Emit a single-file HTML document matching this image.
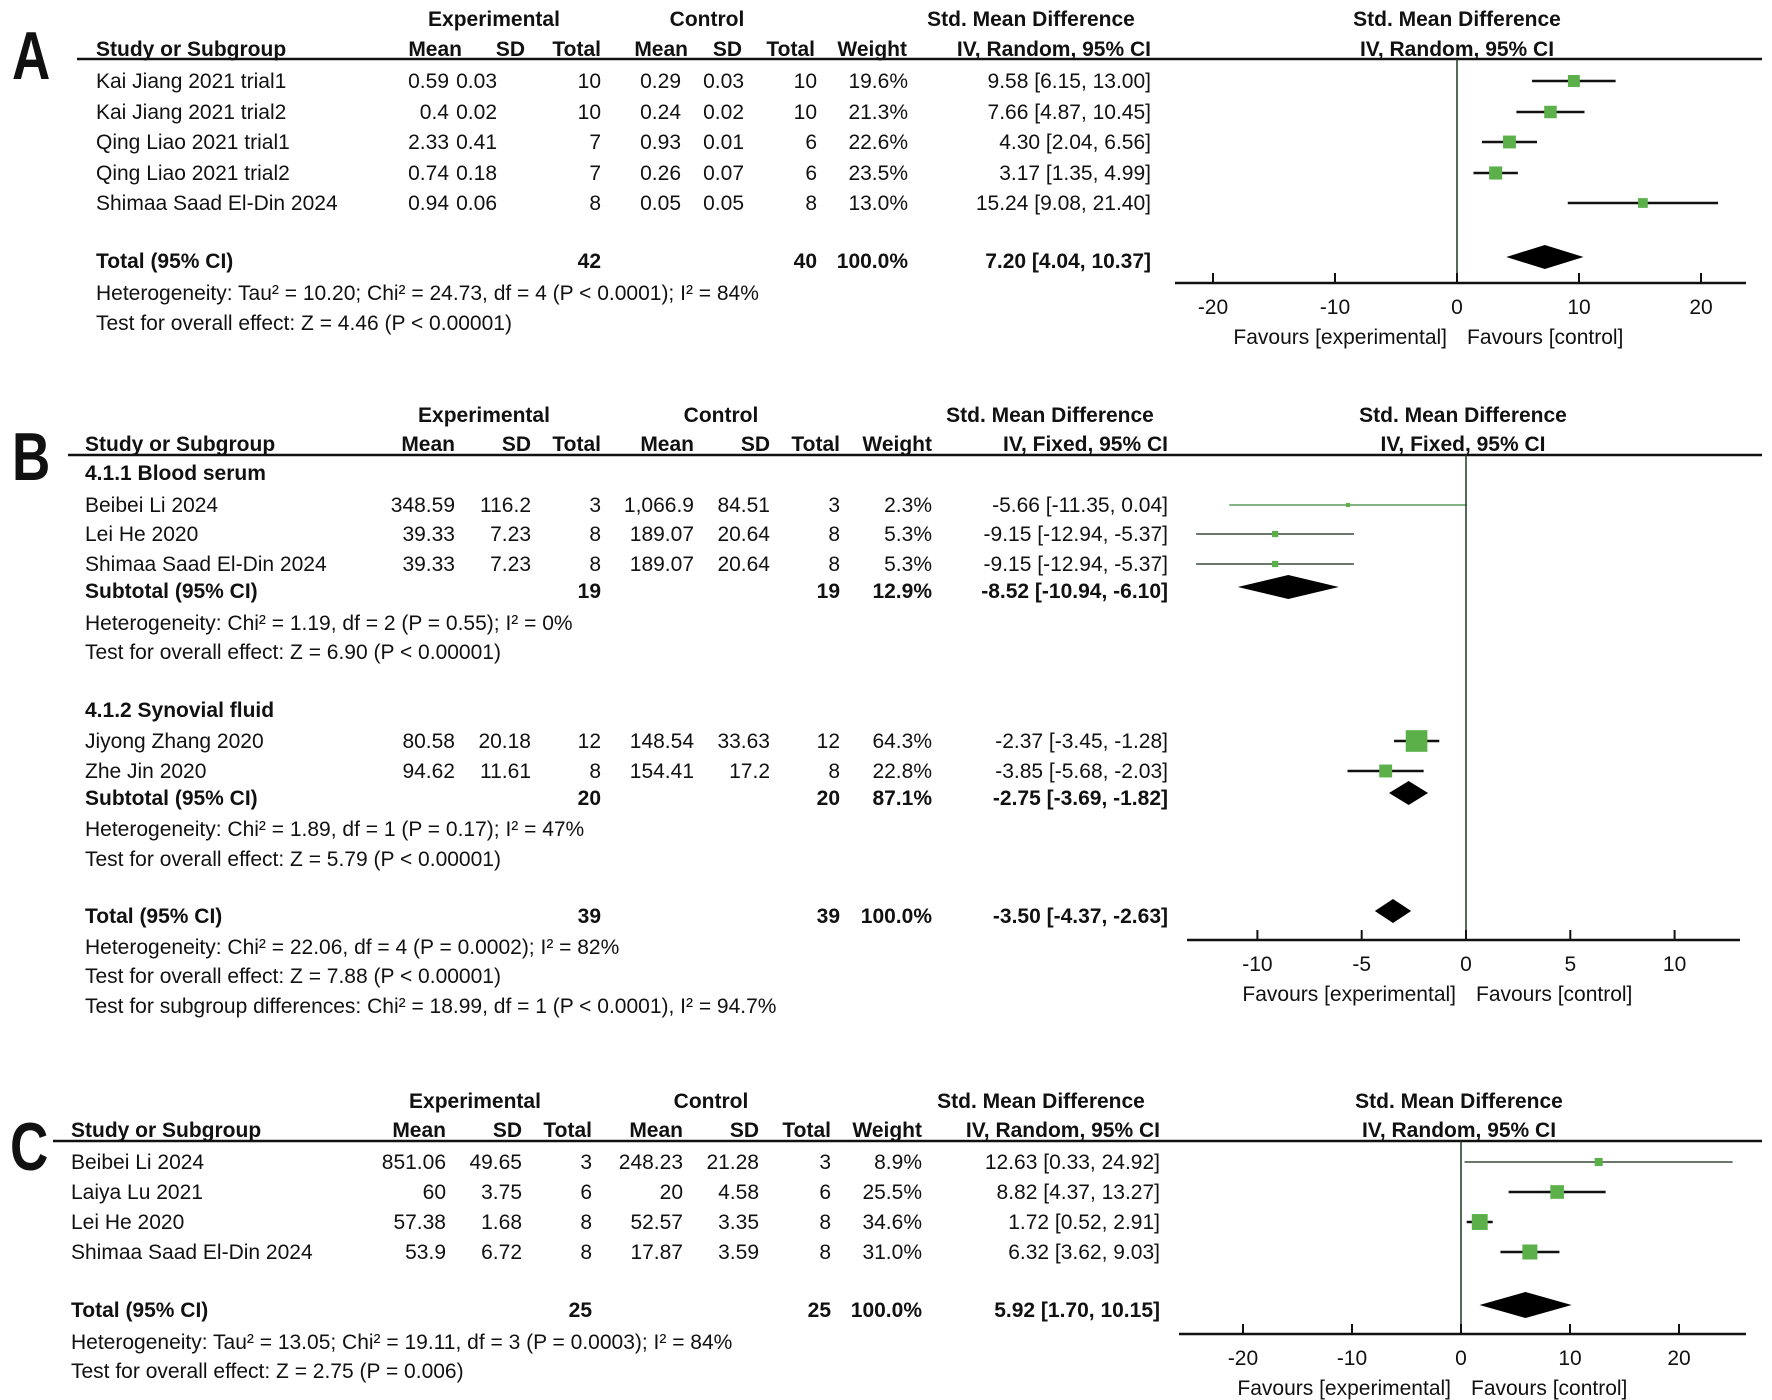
<!DOCTYPE html>
<html><head><meta charset="utf-8">
<style>
html,body{margin:0;padding:0;background:#fff;}
svg{display:block;}
text{font-family:"Liberation Sans",Arial,sans-serif;font-size:21px;fill:#111;}
.b{font-weight:bold;}
</style></head>
<body>
<svg id="fig" width="1772" height="1400" viewBox="0 0 1772 1400" xmlns="http://www.w3.org/2000/svg"></svg>
<script>
// ---------- Panel A data ----------
const A_studies = ["Kai Jiang 2021 trial1","Kai Jiang 2021 trial2","Qing Liao 2021 trial1","Qing Liao 2021 trial2","Shimaa Saad El-Din 2024"];
const A_eMean = ["0.59","0.4","2.33","0.74","0.94"];
const A_eSD = ["0.03","0.02","0.41","0.18","0.06"];
const A_eN = [10,10,7,7,8];
const A_cMean = ["0.29","0.24","0.93","0.26","0.05"];
const A_cSD = ["0.03","0.02","0.01","0.07","0.05"];
const A_cN = [10,10,6,6,8];
const A_weight = [19.6,21.3,22.6,23.5,13.0];
const A_est = [9.58,7.66,4.30,3.17,15.24];
const A_lo = [6.15,4.87,2.04,1.35,9.08];
const A_hi = [13.00,10.45,6.56,4.99,21.40];
const A_total = [7.20,4.04,10.37];
const A_totN = [42,40];
const A_ticks = [-20,-10,0,10,20];
// ---------- Panel B data ----------
const B_studies = ["Beibei Li 2024","Lei He 2020","Shimaa Saad El-Din 2024","Jiyong Zhang 2020","Zhe Jin 2020"];
const B_eMean = ["348.59","39.33","39.33","80.58","94.62"];
const B_eSD = ["116.2","7.23","7.23","20.18","11.61"];
const B_eN = [3,8,8,12,8];
const B_cMean = ["1,066.9","189.07","189.07","148.54","154.41"];
const B_cSD = ["84.51","20.64","20.64","33.63","17.2"];
const B_cN = [3,8,8,12,8];
const B_weight = [2.3,5.3,5.3,64.3,22.8];
const B_est = [-5.66,-9.15,-9.15,-2.37,-3.85];
const B_lo = [-11.35,-12.94,-12.94,-3.45,-5.68];
const B_hi = [0.04,-5.37,-5.37,-1.28,-2.03];
const B_sub1 = [-8.52,-10.94,-6.10];
const B_sub2 = [-2.75,-3.69,-1.82];
const B_total = [-3.50,-4.37,-2.63];
const B_ticks = [-10,-5,0,5,10];
// ---------- Panel C data ----------
const C_studies = ["Beibei Li 2024","Laiya Lu 2021","Lei He 2020","Shimaa Saad El-Din 2024"];
const C_eMean = ["851.06","60","57.38","53.9"];
const C_eSD = ["49.65","3.75","1.68","6.72"];
const C_eN = [3,6,8,8];
const C_cMean = ["248.23","20","52.57","17.87"];
const C_cSD = ["21.28","4.58","3.35","3.59"];
const C_cN = [3,6,8,8];
const C_weight = [8.9,25.5,34.6,31.0];
const C_est = [12.63,8.82,1.72,6.32];
const C_lo = [0.33,4.37,0.52,3.62];
const C_hi = [24.92,13.27,2.91,9.03];
const C_total = [5.92,1.70,10.15];
const C_totN = [25,25];
const C_ticks = [-20,-10,0,10,20];

const NS = "http://www.w3.org/2000/svg";
const svg = document.getElementById('fig');
function mk(tag, attrs, parent){
  const e = document.createElementNS(NS, tag);
  for (const k in attrs) e.setAttribute(k, attrs[k]);
  (parent||svg).appendChild(e);
  return e;
}
function txt(s, x, y, anchor, bold, name, parent){
  const t = mk('text', {x:x, y:y+7, 'text-anchor':anchor||'start'}, parent);
  if (bold) t.setAttribute('class','b');
  t.textContent = s;
  
  
  return t;
}
const f2 = v => v.toFixed(2);
const ci = (e,l,h) => f2(e)+" ["+f2(l)+", "+f2(h)+"]";

function panelLetter(ch, x, y){
  const t = mk('text', {transform:'translate('+x+','+y+') scale(0.78,1)', 'font-size':'68', 'font-weight':'bold'});
  t.setAttribute('style','font-size:68px;font-weight:bold');
  t.textContent = ch;
  
  
}

function studyRow(g, cols, y, name, eM, eS, eN, cM, cS, cN, w, e, l, h){
  txt(name, cols.study, y, 'start', false, 'study-name', g);
  txt(eM, cols.m1, y, 'end', false, 'exp-mean', g);
  txt(eS, cols.s1, y, 'end', false, 'exp-sd', g);
  txt(String(eN), cols.n1, y, 'end', false, 'exp-total', g);
  txt(cM, cols.m2, y, 'end', false, 'ctrl-mean', g);
  txt(cS, cols.s2, y, 'end', false, 'ctrl-sd', g);
  txt(String(cN), cols.n2, y, 'end', false, 'ctrl-total', g);
  txt(w.toFixed(1)+"%", cols.w, y, 'end', false, 'weight', g);
  txt(ci(e,l,h), cols.ci, y, 'end', false, 'smd-ci', g);
}
function marker(g, xs, y, w, e, l, h){
  const col = w < 5 ? '#5a9a5a' : (w < 10 ? '#3c4a3c' : '#111');
  const sw = w < 10 ? 1.5 : 2.5;
  const ln = mk('line', {x1:xs(l), x2:xs(h), y1:y, y2:y, stroke:col, 'stroke-width':sw}, g);
  
  
  const s = Math.max(3, Math.sqrt(w)*2.7);
  const r = mk('rect', {x:xs(e)-s/2, y:y-s/2, width:s, height:s, fill:'#5cb04a'}, g);
  
  
}
function diamond(g, xs, y, arr, hh){
  const p = mk('polygon', {points:xs(arr[1])+','+y+' '+xs(arr[0])+','+(y-hh)+' '+xs(arr[2])+','+y+' '+xs(arr[0])+','+(y+hh), fill:'#000'}, g);
  
  
}
function axis(g, xs, ticks, ay, ax0, ax1, topY){
  const z = mk('line', {x1:xs(0), x2:xs(0), y1:topY, y2:ay, stroke:'#1f3a1f', 'stroke-width':1.5}, g);
  
  
  const a = mk('line', {x1:ax0, x2:ax1, y1:ay, y2:ay, stroke:'#111', 'stroke-width':2.5}, g);
  
  
  ticks.forEach(t => {
    const tl = mk('line', {x1:xs(t), x2:xs(t), y1:ay-10, y2:ay, stroke:'#111', 'stroke-width':2}, g);
    
    
    txt(String(t), xs(t), ay+24, 'middle', false, 'x-tick-label', g);
  });
  txt("Favours [experimental]", xs(0)-10, ay+54, 'end', false, 'favours-experimental', g);
  txt("Favours [control]", xs(0)+10, ay+54, 'start', false, 'favours-control', g);
}
function header(g, h1y, h2y, c, hc, methodLabel, ruleX0, ruleY){
  txt("Experimental", hc.exp, h1y, 'middle', true, 'experimental-header', g);
  txt("Control", hc.ctl, h1y, 'middle', true, 'control-header', g);
  txt("Std. Mean Difference", hc.smd, h1y, 'middle', true, 'smd-header', g);
  txt("Std. Mean Difference", hc.plot, h1y, 'middle', true, 'plot-header', g);
  txt("Study or Subgroup", c.study, h2y, 'start', true, 'study-header', g);
  txt("Mean", c.m1, h2y, 'end', true, 'exp-mean-header', g);
  txt("SD", c.s1, h2y, 'end', true, 'exp-sd-header', g);
  txt("Total", c.n1, h2y, 'end', true, 'exp-total-header', g);
  txt("Mean", c.m2, h2y, 'end', true, 'ctrl-mean-header', g);
  txt("SD", c.s2, h2y, 'end', true, 'ctrl-sd-header', g);
  txt("Total", c.n2, h2y, 'end', true, 'ctrl-total-header', g);
  txt("Weight", c.w, h2y, 'end', true, 'weight-header', g);
  txt(methodLabel, c.ci, h2y, 'end', true, 'method-header', g);
  txt(methodLabel, hc.plot, h2y, 'middle', true, 'plot-method-header', g);
  const r = mk('line', {x1:ruleX0, x2:1762, y1:ruleY, y2:ruleY, stroke:'#111', 'stroke-width':2.5}, g);
  
  
}

// ---------- Panel A ----------
(function(){
  const g = mk('g', {});
  
  
  panelLetter('A', 12, 79);
  const c = {study:96, m1:449, s1:497, n1:601, m2:681, s2:744, n2:817, w:908, ci:1151};
  header(g, 19, 49, {study:96, m1:462, s1:525, n1:601, m2:688, s2:742, n2:815, w:907, ci:1151},
    {exp:494, ctl:707, smd:1031, plot:1457}, "IV, Random, 95% CI", 77, 59);
  const xs = v => 1457 + v*12.2;
  const rows = [81,112,142,173,203];
  A_studies.forEach((s,i) => {
    studyRow(g, c, rows[i], s, A_eMean[i], A_eSD[i], A_eN[i], A_cMean[i], A_cSD[i], A_cN[i], A_weight[i], A_est[i], A_lo[i], A_hi[i]);
    marker(g, xs, rows[i], A_weight[i], A_est[i], A_lo[i], A_hi[i]);
  });
  txt("Total (95% CI)", 96, 261, 'start', true, 'total-label', g);
  txt(String(A_totN[0]), 601, 261, 'end', true, 'exp-total-sum', g);
  txt(String(A_totN[1]), 817, 261, 'end', true, 'ctrl-total-sum', g);
  txt("100.0%", 908, 261, 'end', true, 'total-weight', g);
  txt(ci(A_total[0],A_total[1],A_total[2]), 1151, 261, 'end', true, 'total-ci', g);
  diamond(g, xs, 257, A_total, 12);
  txt("Heterogeneity: Tau\u00b2 = 10.20; Chi\u00b2 = 24.73, df = 4 (P < 0.0001); I\u00b2 = 84%", 96, 293, 'start', false, 'heterogeneity', g);
  txt("Test for overall effect: Z = 4.46 (P < 0.00001)", 96, 323, 'start', false, 'overall-effect', g);
  axis(g, xs, A_ticks, 283, 1175, 1746, 59);
})();

// ---------- Panel B ----------
(function(){
  const g = mk('g', {});
  
  
  panelLetter('B', 12, 480);
  const c = {study:85, m1:455, s1:531, n1:601, m2:694, s2:770, n2:840, w:932, ci:1168};
  header(g, 415, 444, c, {exp:484, ctl:721, smd:1050, plot:1463}, "IV, Fixed, 95% CI", 68, 455);
  const xs = v => 1466 + v*20.86;
  const rows = [505,534,564,741,771];
  txt("4.1.1 Blood serum", 85, 473, 'start', true, 'subgroup-blood-serum', g);
  txt("4.1.2 Synovial fluid", 85, 710, 'start', true, 'subgroup-synovial-fluid', g);
  B_studies.forEach((s,i) => {
    studyRow(g, c, rows[i], s, B_eMean[i], B_eSD[i], B_eN[i], B_cMean[i], B_cSD[i], B_cN[i], B_weight[i], B_est[i], B_lo[i], B_hi[i]);
    marker(g, xs, rows[i], B_weight[i], B_est[i], B_lo[i], B_hi[i]);
  });
  const sub = (y, arr, n, w, label) => {
    txt(label, 85, y, 'start', true, 'subtotal-label', g);
    txt(String(n), 601, y, 'end', true, 'exp-subtotal', g);
    txt(String(n), 840, y, 'end', true, 'ctrl-subtotal', g);
    txt(w, 932, y, 'end', true, 'subtotal-weight', g);
    txt(ci(arr[0],arr[1],arr[2]), 1168, y, 'end', true, 'subtotal-ci', g);
  };
  sub(591, B_sub1, 19, "12.9%", "Subtotal (95% CI)");
  diamond(g, xs, 587, B_sub1, 12);
  txt("Heterogeneity: Chi\u00b2 = 1.19, df = 2 (P = 0.55); I\u00b2 = 0%", 85, 623, 'start', false, 'heterogeneity-1', g);
  txt("Test for overall effect: Z = 6.90 (P < 0.00001)", 85, 652, 'start', false, 'overall-effect-1', g);
  sub(798, B_sub2, 20, "87.1%", "Subtotal (95% CI)");
  diamond(g, xs, 793, B_sub2, 12);
  txt("Heterogeneity: Chi\u00b2 = 1.89, df = 1 (P = 0.17); I\u00b2 = 47%", 85, 829, 'start', false, 'heterogeneity-2', g);
  txt("Test for overall effect: Z = 5.79 (P < 0.00001)", 85, 859, 'start', false, 'overall-effect-2', g);
  sub(916, B_total, 39, "100.0%", "Total (95% CI)");
  diamond(g, xs, 911, B_total, 12);
  txt("Heterogeneity: Chi\u00b2 = 22.06, df = 4 (P = 0.0002); I\u00b2 = 82%", 85, 947, 'start', false, 'heterogeneity-total', g);
  txt("Test for overall effect: Z = 7.88 (P < 0.00001)", 85, 976, 'start', false, 'overall-effect-total', g);
  txt("Test for subgroup differences: Chi\u00b2 = 18.99, df = 1 (P < 0.0001), I\u00b2 = 94.7%", 85, 1006, 'start', false, 'subgroup-differences', g);
  axis(g, xs, B_ticks, 940, 1187, 1740, 455);
})();

// ---------- Panel C ----------
(function(){
  const g = mk('g', {});
  
  
  panelLetter('C', 10, 1170);
  const c = {study:71, m1:446, s1:522, n1:592, m2:683, s2:759, n2:831, w:922, ci:1160};
  header(g, 1101, 1130, c, {exp:475, ctl:711, smd:1041, plot:1459}, "IV, Random, 95% CI", 53, 1141);
  const xs = v => 1461 + v*10.9;
  const rows = [1162,1192,1222,1252];
  C_studies.forEach((s,i) => {
    studyRow(g, c, rows[i], s, C_eMean[i], C_eSD[i], C_eN[i], C_cMean[i], C_cSD[i], C_cN[i], C_weight[i], C_est[i], C_lo[i], C_hi[i]);
    marker(g, xs, rows[i], C_weight[i], C_est[i], C_lo[i], C_hi[i]);
  });
  txt("Total (95% CI)", 71, 1310, 'start', true, 'total-label', g);
  txt(String(C_totN[0]), 592, 1310, 'end', true, 'exp-total-sum', g);
  txt(String(C_totN[1]), 831, 1310, 'end', true, 'ctrl-total-sum', g);
  txt("100.0%", 922, 1310, 'end', true, 'total-weight', g);
  txt(ci(C_total[0],C_total[1],C_total[2]), 1160, 1310, 'end', true, 'total-ci', g);
  diamond(g, xs, 1305, C_total, 13);
  txt("Heterogeneity: Tau\u00b2 = 13.05; Chi\u00b2 = 19.11, df = 3 (P = 0.0003); I\u00b2 = 84%", 71, 1342, 'start', false, 'heterogeneity', g);
  txt("Test for overall effect: Z = 2.75 (P = 0.006)", 71, 1371, 'start', false, 'overall-effect', g);
  axis(g, xs, C_ticks, 1334, 1179, 1746, 1141);
})();
</script>
</body></html>
